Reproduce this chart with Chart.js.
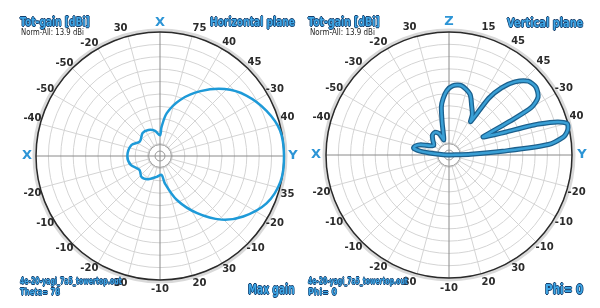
<!DOCTYPE html>
<html>
<head>
<meta charset="utf-8">
<script src="https://cdn.jsdelivr.net/npm/chart.js@4.4.1/dist/chart.umd.min.js"></script>
<style>
  html, body { margin: 0; padding: 0; background: #fff; }
  body { width: 600px; height: 308px; position: relative; overflow: hidden; font-family: "DejaVu Sans", sans-serif; }
  canvas { position: absolute; top: 0; }
  .txt { position: absolute; white-space: nowrap; transform-origin: 0 50%; }
  .blue { font-weight: bold; color: #3ea6e6; }
  .note { color: #222; }
</style>
</head>
<body>
<canvas id="hplane" width="300" height="308" style="left:0"></canvas>
<canvas id="vplane" width="300" height="308" style="left:300px"></canvas>
<script>
// rim labels, every 15 degrees clockwise from the top
const hRimLabels = ['X','75','40','45','-30','40','Y','35','-20','-10','30','20','-10','30','-20','-10','-10','-20','X','-40','-50','-50','-20','30'];
const vRimLabels = ['Z','15','45','45','-30','40','Y','-20','-10','-10','30','20','-10','30','-20','-10','-10','-20','X','-40','-50','-30','-20','30'];

// horizontal plane pattern (deg clockwise from X, gain dB)
const hAngle = [0,3,9,20,32,44,55,67,78,90,102,114,126,136,147,159,170,175,189,207,221,236,253,270,291,306,323,336,349];
const hGain  = [-25,-23,-19.5,-15.5,-11.5,-7.5,-4.5,-2,-0.3,0,-0.2,-1.8,-5.1,-8.6,-13.5,-18.6,-23.3,-25.4,-24.9,-23.7,-23.2,-24,-22.6,-22.1,-22.6,-24,-23,-23.1,-23.8];

// vertical plane pattern (deg clockwise from Z, gain dB)
const vAngle = [3,10,19,25,30,33,35,38,42,47,52,57,60,61,62,64,66,68,70,71,73,75,77,79,81,84,86,88,90,180,270,273,276,278,281,285,290,296,303,312,320,328,335,338,341,345,348,351,354,358];
const vGain  = [-13.1,-12.8,-14.3,-16.9,-18.6,-20.3,-13.1,-9.2,-6,-3.6,-3.1,-4.1,-6.8,-13.1,-20.6,-19.6,-17.9,-15,-9.7,-6.8,-2.4,-0.2,-0.2,-0.7,-1.7,-5.6,-16.9,-24.7,-29.5,-30,-29.5,-28.1,-25.2,-22.7,-21.2,-21.5,-22.7,-24.9,-25.6,-24.7,-23.7,-23.5,-24.2,-25.2,-26.1,-24.7,-22,-18.1,-16.2,-14.3];

const gainMin = -30, gainMax = 0, gainStep = 3;

// where each plot sits in its canvas
const geometry = {
  hplane: { x: 160, y: 156, r: 124 },
  vplane: { x: 149, y: 155, r: 123 }
};
const labelDist = 133;   // rim label centres sit on this circle

// pin the polar centre and radius instead of letting the labels push it around
const origCenter = Chart.RadialLinearScale.prototype.setCenterPoint;
Chart.RadialLinearScale.prototype.setCenterPoint = function (...args) {
  const g = geometry[this.chart.canvas.id];
  if (!g) return origCenter.apply(this, args);
  this.xCenter = g.x;
  this.yCenter = g.y;
  this.drawingArea = g.r;
};

const spread = (angles, gains) => {
  const out = new Array(360).fill(null);
  angles.forEach((a, i) => { out[a] = gains[i]; });
  return out;
};
const rimLabels = ticks => Array.from({ length: 360 }, (_, i) => i % 15 === 0 ? ticks[i / 15] : '');

const axisNames = ['X', 'Y', 'Z'];
const labelFont = label => axisNames.includes(label)
  ? { family: 'DejaVu Sans', size: 13, weight: 'bold' }
  : { family: 'DejaVu Sans', size: 10, weight: 'bold' };

// Chart.js anchors a label by its corner; pad so its centre lands on labelDist
const measureCtx = document.createElement('canvas').getContext('2d');
function labelPadding(c, r) {
  if (!c.label) return 0;
  const f = labelFont(c.label);
  measureCtx.font = `${f.weight} ${f.size}px "${f.family}"`;
  const w = measureCtx.measureText(c.label).width;
  const h = f.size * 1.2;
  const a = c.index * Math.PI / 180;
  return labelDist - r - Math.abs(Math.sin(a)) * w / 2 - Math.abs(Math.cos(a)) * h / 2;
}

// dark rim with a soft shadow, and a clean hub with two small circles
const rimPlugin = {
  id: 'rim',
  beforeDatasetsDraw(chart) {
    const s = chart.scales.r, ctx = chart.ctx;
    const cx = s.xCenter, cy = s.yCenter;
    const hub = s.getDistanceFromCenterForValue(gainMin + gainStep) - 1;
    const dot = s.getDistanceFromCenterForValue(-28.8);
    ctx.save();
    ctx.strokeStyle = 'rgba(0,0,0,0.15)';
    ctx.lineWidth = 4;
    ctx.beginPath(); ctx.arc(cx, cy, s.drawingArea + 1.5, 0, Math.PI * 2); ctx.stroke();
    ctx.strokeStyle = '#2a2a2a';
    ctx.lineWidth = 1.5;
    ctx.beginPath(); ctx.arc(cx, cy, s.drawingArea, 0, Math.PI * 2); ctx.stroke();

    ctx.fillStyle = '#fff';
    ctx.beginPath(); ctx.arc(cx, cy, hub, 0, Math.PI * 2); ctx.fill();
    ctx.strokeStyle = '#8a8a8a';
    ctx.lineWidth = 1;
    ctx.beginPath();
    ctx.moveTo(cx - hub, cy); ctx.lineTo(cx + hub, cy);
    ctx.moveTo(cx, cy - hub); ctx.lineTo(cx, cy + hub);
    ctx.stroke();
    ctx.strokeStyle = '#999';
    ctx.beginPath(); ctx.arc(cx, cy, hub, 0, Math.PI * 2); ctx.stroke();
    ctx.beginPath(); ctx.arc(cx, cy, dot, 0, Math.PI * 2); ctx.stroke();
    ctx.restore();
  }
};

function makePlot(id, ticks, datasets) {
  const r = geometry[id].r;
  new Chart(document.getElementById(id), {
    type: 'radar',
    data: { labels: rimLabels(ticks), datasets },
    options: {
      responsive: false,
      animation: false,
      plugins: { legend: { display: false }, tooltip: { enabled: false } },
      elements: { point: { radius: 0 } },
      scales: {
        r: {
          min: gainMin, max: gainMax,
          startAngle: 0,
          ticks: { display: false, stepSize: gainStep },
          grid: {
            circular: true,
            color: '#d4d4d4',
            lineWidth: c => c.index === 10 ? 0 : 1
          },
          angleLines: {
            color: c => c.index % 90 === 0 ? '#8a8a8a' : '#d4d4d4',
            lineWidth: c => c.index % 15 === 0 ? 1 : 0
          },
          pointLabels: {
            padding: c => labelPadding(c, r),
            color: c => axisNames.includes(c.label) ? '#2d95d6' : '#2b2b2b',
            font: c => labelFont(c.label)
          }
        }
      }
    },
    plugins: [rimPlugin]
  });
}

const hSeries = spread(hAngle, hGain);
const vSeries = spread(vAngle, vGain);

makePlot('hplane', hRimLabels, [{
  data: hSeries, spanGaps: true, fill: false, tension: 0.3,
  borderColor: '#1e9ad8', borderWidth: 2.5, borderJoinStyle: 'round'
}]);

makePlot('vplane', vRimLabels, [{
  data: vSeries, spanGaps: true, fill: false, tension: 0.25,
  borderColor: '#3aa0d6', borderWidth: 2.5, borderJoinStyle: 'round', order: 0
}, {
  data: vSeries, spanGaps: true, fill: false, tension: 0.25,
  borderColor: '#1b5f8c', borderWidth: 5, borderJoinStyle: 'round', order: 1
}]);

// corner texts: [text, class, left, centre y, width, font size]
const texts = [
  ['Tot-gain [dBi]', 'blue', 20, 21, 70, 13],
  ['Horizontal plane', 'blue', 210, 21, 85, 13],
  ['Norm-All: 13.9 dBi', 'note', 21, 32.5, 63, 9],
  ['4e-20-yagi_7a5_towertop.out', 'blue', 20, 282, 102, 8],
  ['Theta= 78', 'blue', 20, 292, 40, 9],
  ['Max gain', 'blue', 248, 288.5, 47, 14],
  ['Tot-gain [dBi]', 'blue', 308, 21, 72, 13],
  ['Vertical plane', 'blue', 507, 22, 76, 13],
  ['Norm-All: 13.9 dBi', 'note', 310, 32.5, 65, 9],
  ['4e-20-yagi_7a5_towertop.out', 'blue', 308, 282, 100, 8],
  ['Phi= 0', 'blue', 308, 292, 29, 9],
  ['Phi= 0', 'blue', 545, 288.5, 38, 14]
];
texts.forEach(([t, cls, x, y, w, size]) => {
  const el = document.createElement('div');
  el.className = 'txt ' + cls;
  el.textContent = t;
  el.style.fontSize = size + 'px';
  el.style.lineHeight = size + 'px';
  el.style.left = x + 'px';
  el.style.top = (y - size / 2) + 'px';
  if (cls === 'blue') {
    const o = size > 10 ? 1 : 0.6;
    el.style.textShadow = `-${o}px 0 #16406e, ${o}px 0 #16406e, 0 -${o}px #16406e, 0 ${o}px #16406e`;
  }
  document.body.appendChild(el);
  el.style.transform = `scaleX(${w / el.offsetWidth})`;
});
</script>
</body>
</html>
